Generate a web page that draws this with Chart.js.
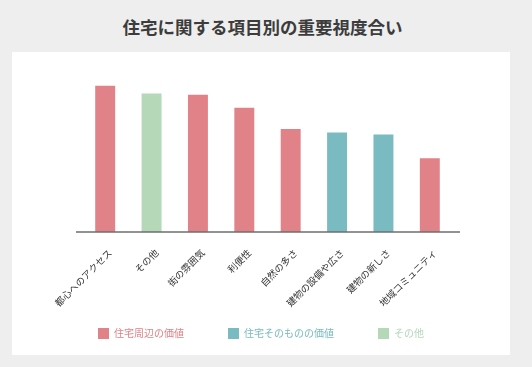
<!DOCTYPE html>
<html>
<head>
<meta charset="utf-8">
<script src="https://cdn.jsdelivr.net/npm/chart.js@4/dist/chart.umd.min.js"></script>
<style>
  html, body { margin: 0; padding: 0; }
  body { width: 532px; height: 367px; background: #eeeeee; position: relative; overflow: hidden;
         font-family: "Noto Sans CJK JP", sans-serif; }
  #title { position: absolute; left: 0; top: 15px; width: 525px; text-align: center;
           font-size: 17.5px; font-weight: bold; color: #3c3c3c; line-height: 24px; }
  #panel { position: absolute; left: 12px; top: 52px; width: 498px; height: 303px; background: #fff; }
</style>
</head>
<body>
<div id="title">住宅に関する項目別の重要視度合い</div>
<div id="panel"><canvas id="importanceChart" width="498" height="303"></canvas></div>
<script>
// categories and values (relative importance)
var items = ["都心へのアクセス", "その他", "街の雰囲気", "利便性", "自然の多さ", "建物の設備や広さ", "建物の新しさ", "地域コミュニティ"];
var values = [91.4, 86.6, 85.8, 77.6, 64.3, 62.2, 60.9, 46.1];
var groups = ["surround", "other", "surround", "surround", "surround", "building", "building", "surround"];

var groupKeys = ["surround", "building", "other"];
var groupNames = ["住宅周辺の価値", "住宅そのものの価値", "その他"];
var groupColors = ["#e08287", "#79bbc0", "#b4d8b8"];

var datasets = groupKeys.map(function (key, i) {
    return {
        label: groupNames[i],
        data: values.map(function (v, j) { return groups[j] === key ? v : null; }),
        backgroundColor: groupColors[i],
        borderWidth: 0,
        barPercentage: 0.43,
        categoryPercentage: 1
    };
});

// axis line a bit wider than the plot area
var baseLine = {
    id: 'baseLine',
    afterDatasetsDraw: function (chart) {
        var a = chart.chartArea, c = chart.ctx;
        c.save();
        c.strokeStyle = '#6e6e6e';
        c.lineWidth = 1.5;
        c.beginPath();
        c.moveTo(a.left - 6, a.bottom);
        c.lineTo(a.right + 7, a.bottom);
        c.stroke();
        c.restore();
    }
};

// invisible side axes just to hold the margins
function spacer(w) {
    return {
        display: true,
        grid: { display: false },
        border: { display: false },
        ticks: { display: false },
        afterFit: function (scale) { scale.width = w; }
    };
}

Chart.defaults.font.family = '"Noto Sans CJK JP", sans-serif';

var yLeft = spacer(70);
yLeft.stacked = true;
yLeft.min = 0;
yLeft.max = 100;
var yRight = spacer(57);
yRight.position = 'right';

var ctx = document.getElementById('importanceChart').getContext('2d');
var importanceChart = new Chart(ctx, {
    type: 'bar',
    data: { labels: items, datasets: datasets },
    plugins: [baseLine],
    options: {
        responsive: false,
        animation: false,
        layout: { padding: { top: 20, left: 0, right: 0, bottom: 6 } },
        scales: {
            x: {
                stacked: true,
                grid: { display: false, drawTicks: false },
                border: { display: false },
                ticks: { minRotation: 45, maxRotation: 45, color: '#333', font: { size: 9.5 }, padding: 15, labelOffset: 5 },
                afterFit: function (scale) {
                    // labels may run into the legend band, so no clipping
                    scale.height = 52;
                    scale._computeLabelArea = function () { return undefined; };
                }
            },
            y: yLeft,
            yr: yRight
        },
        plugins: {
            tooltip: { enabled: false },
            legend: {
                position: 'bottom',
                labels: {
                    boxWidth: 11,
                    boxHeight: 11,
                    padding: 44,
                    font: { size: 10 },
                    generateLabels: function (chart) {
                        return chart.data.datasets.map(function (ds, i) {
                            return {
                                text: ds.label,
                                fillStyle: ds.backgroundColor,
                                strokeStyle: ds.backgroundColor,
                                lineWidth: 0,
                                fontColor: ds.backgroundColor,
                                datasetIndex: i
                            };
                        });
                    }
                }
            }
        }
    }
});
</script>
</body>
</html>
